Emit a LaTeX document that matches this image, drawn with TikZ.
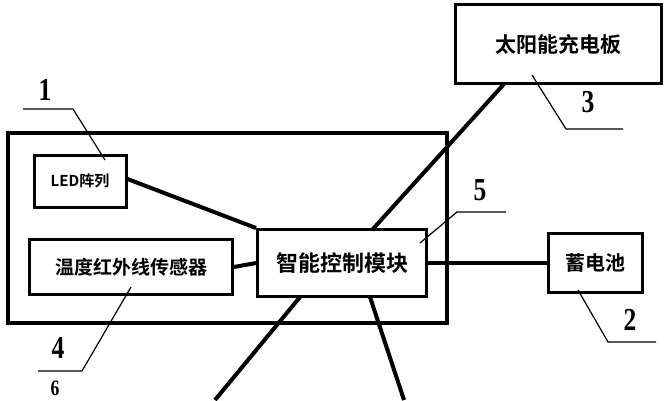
\documentclass[tikz,border=0pt]{standalone}
\usepackage{fontspec}
\newfontfamily\cjk{Noto Sans CJK SC Bold}
\setmainfont{Liberation Serif}
\begin{document}
\begin{tikzpicture}[x=1pt,y=-1pt,
  box/.style={draw,line width=3pt,inner sep=0pt,font=\cjk},
  wire/.style={line width=4pt},
  lead/.style={line width=1.2pt},
  num/.style={font=\bfseries\fontsize{32}{32}\selectfont,xscale=0.8}]
\useasboundingbox (0,0) rectangle (669,400);

% The enclosure
\draw[line width=3.5pt] (8,133) rectangle (447,323);

% The blocks
\node[box,minimum width=92,minimum height=52,font=\cjk\fontsize{15}{15}\selectfont] (ledbox) at (80,181) {LED阵列};
\node[box,minimum width=203,minimum height=55,font=\cjk\fontsize{19}{19}\selectfont] (sensor) at (131,267) {温度红外线传感器};
\node[box,minimum width=169,minimum height=67,font=\cjk\fontsize{22}{22}\selectfont] (ctrl) at (342,263) {智能控制模块};
\node[box,minimum width=206,minimum height=79,font=\cjk\fontsize{21}{21}\selectfont] (solar) at (558,44) {太阳能充电板};
\node[box,minimum width=94,minimum height=59,font=\cjk\fontsize{20}{20}\selectfont] (battery) at (595,263) {蓄电池};

% The wires
\coordinate (solarfoot) at (504,84);
\coordinate (ctrltop) at (372,230);
\draw[wire] (solarfoot) -- (ctrltop);
\draw[wire] (ledbox.east) ++(0,-2) -- (ctrl.north west);
\draw[wire] (sensor.east) -- (ctrl.west);
\draw[wire] (ctrl.east) -- (battery.west);
\coordinate (outa) at (300,297);
\coordinate (enda) at (215,400);
\coordinate (outb) at (370,297);
\coordinate (endb) at (404,400);
\draw[wire] (outa) -- (enda);
\draw[wire] (outb) -- (endb);

% The labels
\node[num] (one) at (45,90) {1};
\draw[lead] (23,109) -- (73,109) -- (105,160);
\node[num] (three) at (588,102) {3};
\draw[lead] (623,129) -- (566,129) -- (532,75);
\node[num] (five) at (480,190) {5};
\draw[lead] (506,212) -- (457,212) -- (420,243);
\node[num] (four) at (58,348) {4};
\draw[lead] (38,371) -- (82,371) -- (131,287);
\node[num] (two) at (630,320) {2};
\draw[lead] (656,342) -- (608,342) -- (578,290);
\node[num,font=\bfseries\fontsize{22}{22}\selectfont] (six) at (55,388) {6};
\end{tikzpicture}
\end{document}
